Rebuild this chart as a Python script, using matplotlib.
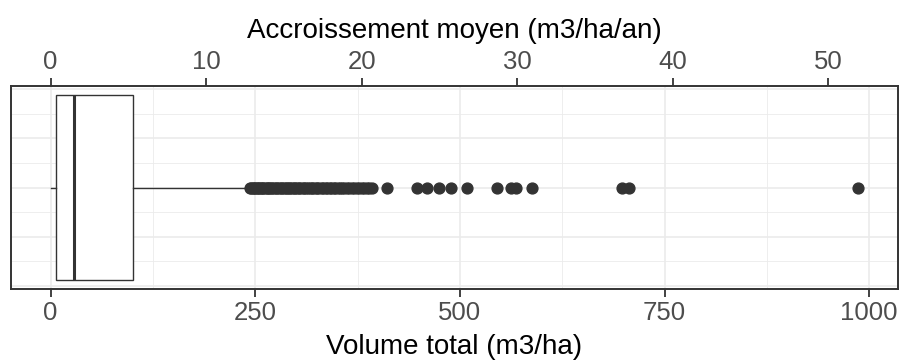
import matplotlib
matplotlib.use("Agg")
import matplotlib.pyplot as plt
import numpy as np

plt.rcParams['font.family'] = ['Liberation Sans', 'DejaVu Sans']

# ---- data (volume total, m3/ha) ----
box_whislo = 0.8
box_q1 = 6.0
box_median = 29.0
box_q3 = 101.0
box_whishi = 240.0
outliers = [244, 245, 247, 248, 250, 252, 253, 255, 257, 258, 260, 262, 264, 266,
            267, 269, 271, 273, 275, 277, 279, 281, 283, 285, 287, 289, 291, 293,
            295, 297, 299, 301, 303, 305, 308, 310, 312, 314, 317, 319, 321, 324,
            326, 328, 331, 333, 336, 338, 341, 343, 346, 348, 351, 354, 356, 359,
            362, 365, 368, 371, 374, 377, 380, 383, 386, 389, 392,
            411, 447, 460, 475, 489, 509, 545, 562, 568, 588, 698, 706, 986]
age_factor = 19.0  # volume / age -> accroissement moyen

bottom_ticks = [0, 250, 500, 750, 1000]
bottom_minor = [125, 375, 625, 875]
top_ticks = [0, 10, 20, 30, 40, 50]
y_major = [-0.4, -0.2, 0.0, 0.2, 0.4]
y_minor = [-0.3, -0.1, 0.1, 0.3]

xlabel_bottom = "Volume total (m3/ha)"
xlabel_top = "Accroissement moyen (m3/ha/an)"

# ---- figure ----
fig = plt.figure(figsize=(9.04, 3.62), dpi=100)
ax = fig.add_axes([11/904, 1-289/362, (898-11)/904, (289-86)/362])

dark = "#333333"
grid_c = "#EBEBEB"

stats = [dict(whislo=box_whislo, q1=box_q1, med=box_median, q3=box_q3,
              whishi=box_whishi, fliers=outliers)]
ax.bxp(stats, positions=[0], widths=0.75, vert=False, showcaps=False,
       patch_artist=True,
       boxprops=dict(facecolor="white", edgecolor=dark, linewidth=1.0),
       whiskerprops=dict(color=dark, linewidth=1.0),
       medianprops=dict(color=dark, linewidth=2.2),
       flierprops=dict(marker='o', markerfacecolor=dark, markeredgecolor=dark,
                       markersize=7.8, linestyle='none'),
       zorder=3)

# limits with ggplot-like 5% expansion
xmin = min(box_whislo, min(outliers))
xmax = max(box_whishi, max(outliers))
rng = xmax - xmin
ax.set_xlim(xmin - 0.05*rng, xmax + 0.05*rng)
ax.set_ylim(-0.4125, 0.4125)

# grid
for v in bottom_minor:
    ax.axvline(v, color=grid_c, lw=0.6, zorder=0)
for v in bottom_ticks:
    ax.axvline(v, color=grid_c, lw=1.2, zorder=0)
for v in y_minor:
    ax.axhline(v, color=grid_c, lw=0.6, zorder=0)
for v in y_major:
    ax.axhline(v, color=grid_c, lw=1.2, zorder=0)

ax.set_yticks([])
ax.set_xticks(bottom_ticks)
ax.set_xticklabels([str(t) for t in bottom_ticks])
ax.tick_params(axis='x', which='major', direction='out', length=5.5, width=1.3,
               color=dark, labelsize=18.5, labelcolor="#4D4D4D", pad=3)
ax.set_xlabel(xlabel_bottom, fontsize=20, color="black", labelpad=6.5)

for s in ax.spines.values():
    s.set_color(dark)
    s.set_linewidth(1.4)
    s.set_zorder(5)

sec = ax.secondary_xaxis('top', functions=(lambda v: v/age_factor,
                                           lambda a: a*age_factor))
sec.set_xticks(top_ticks)
sec.set_xticklabels([str(t) for t in top_ticks])
sec.tick_params(axis='x', direction='out', length=5.5, width=1.3,
                color=dark, labelsize=18.5, labelcolor="#4D4D4D", pad=3)
sec.set_xlabel(xlabel_top, fontsize=20, color="black", labelpad=9)
sec.spines['top'].set_visible(False)

fig.savefig("out.png", dpi=100)
